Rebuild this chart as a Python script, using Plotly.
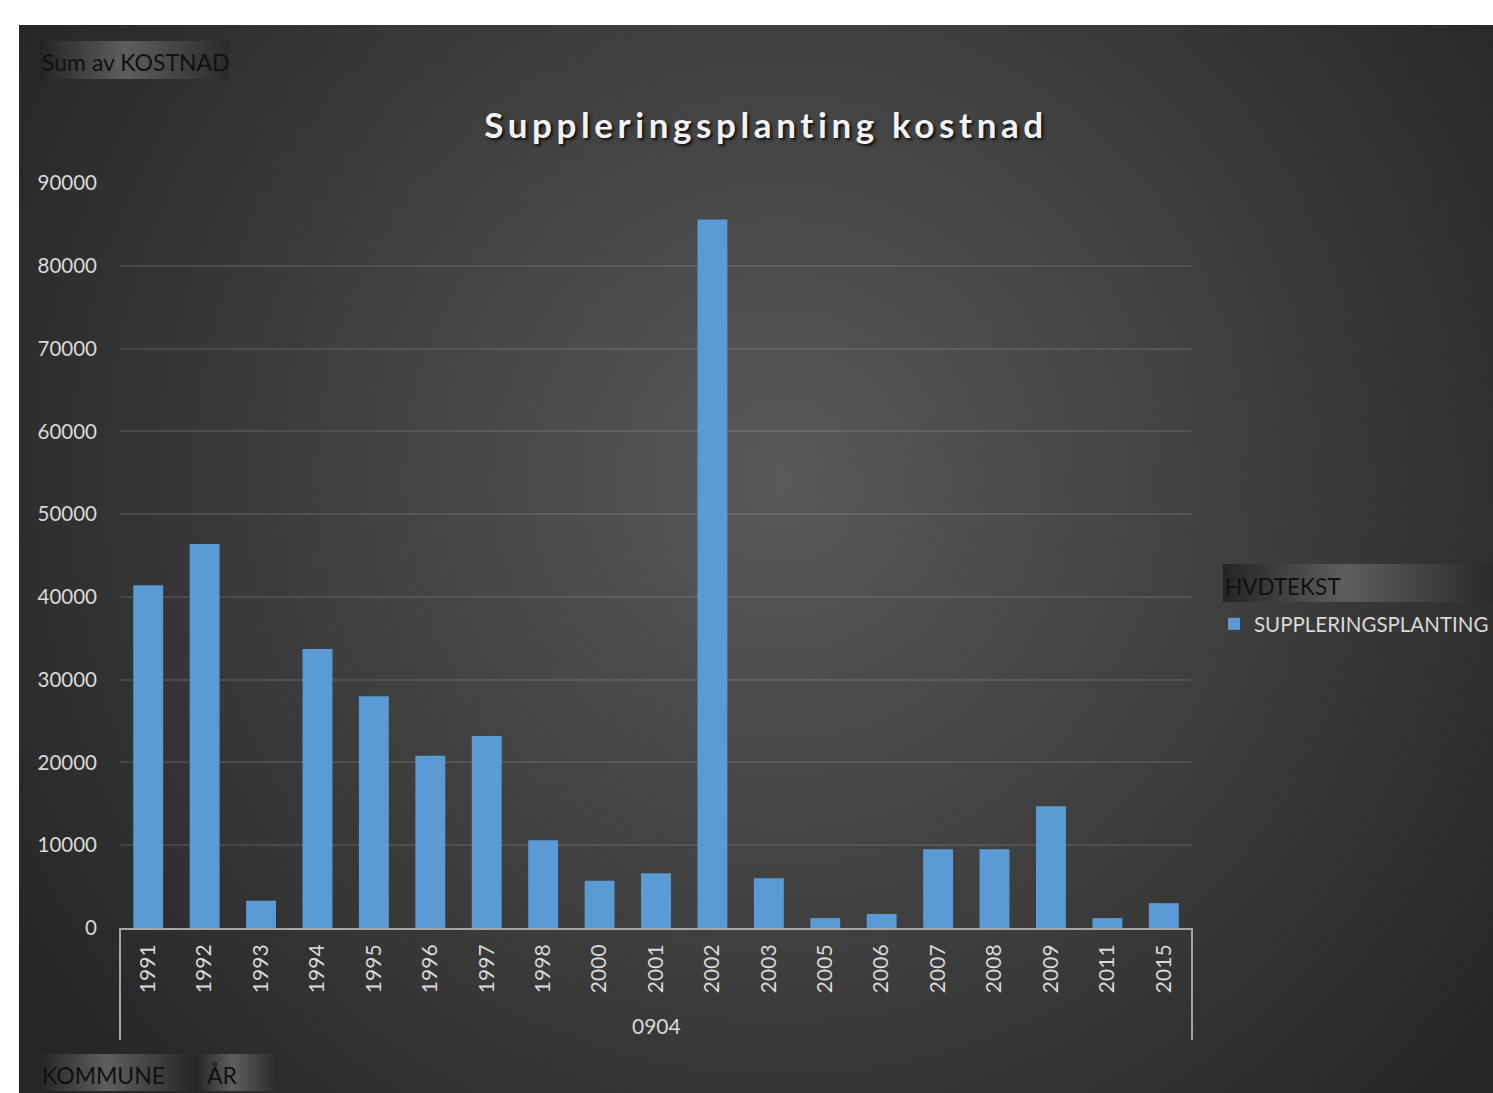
import base64
import plotly.graph_objects as go

# Pivot data: KOMMUNE 0904, HVDTEKST = SUPPLERINGSPLANTING, sum of KOSTNAD per year
kommune = "0904"
series_name = "SUPPLERINGSPLANTING"
years = ["1991", "1992", "1993", "1994", "1995", "1996", "1997", "1998", "2000", "2001",
         "2002", "2003", "2005", "2006", "2007", "2008", "2009", "2011", "2015"]
kostnad = [41400, 46400, 3300, 33700, 28000, 20800, 23200, 10600, 5700, 6600,
           85600, 6000, 1200, 1700, 9500, 9500, 14700, 1200, 3000]
y_ticks = [0, 10000, 20000, 30000, 40000, 50000, 60000, 70000, 80000, 90000]

W, H = 1493, 1093
ML, MR, MT, MB = 120, 301, 183, 165
PW, PH = W - ML - MR, H - MT - MB


def px(x):
    """pixel column -> paper x"""
    return (x - ML) / PW


def py(y):
    """pixel row -> paper y"""
    return (H - MB - y) / PH


FONT = "Lato, 'Open Sans', sans-serif"
LABEL = "#d9d9d9"
BTN_TEXT = "#111111"

# Page backdrop: dark radial gradient chart area plus the pivot field buttons
svg = f"""<svg xmlns="http://www.w3.org/2000/svg" width="{W}" height="{H}" viewBox="0 0 {W} {H}" preserveAspectRatio="none">
<defs>
<radialGradient id="bg" gradientUnits="userSpaceOnUse" cx="780" cy="480" r="900">
<stop offset="0" stop-color="#595959"/><stop offset="1" stop-color="#262626"/>
</radialGradient>
<linearGradient id="btn" x1="0" x2="1" y1="0" y2="0">
<stop offset="0" stop-color="#242424"/><stop offset="0.45" stop-color="#5e5e5e"/><stop offset="1" stop-color="#2a2a2a"/>
</linearGradient>
</defs>
<rect width="{W}" height="{H}" fill="#ffffff"/>
<rect x="19" y="25" width="1474" height="1068" fill="url(#bg)"/>
<rect x="40" y="41" width="189" height="38" fill="url(#btn)"/>
<rect x="38" y="1054" width="152" height="37" fill="url(#btn)"/>
<rect x="195" y="1054" width="83" height="37" fill="url(#btn)"/>
<rect x="1223" y="564" width="270" height="38" fill="url(#btn)"/>
</svg>"""
bg_uri = "data:image/svg+xml;base64," + base64.b64encode(svg.encode("utf-8")).decode("ascii")

fig = go.Figure()
fig.add_trace(go.Bar(
    x=years,
    y=kostnad,
    name=series_name,
    marker=dict(color="#5b9bd5", line=dict(width=0)),
))

fig.add_layout_image(dict(
    source=bg_uri, xref="paper", yref="paper",
    x=px(0), y=py(0), sizex=W / PW, sizey=H / PH,
    xanchor="left", yanchor="top", sizing="stretch", layer="below",
))

axis_line = "#a6a6a6"
fig.update_layout(
    width=W, height=H,
    margin=dict(l=ML, r=MR, t=MT, b=MB, pad=0, autoexpand=False),
    paper_bgcolor="#ffffff",
    plot_bgcolor="rgba(0,0,0,0)",
    bargap=0.47,
    font=dict(family=FONT, size=20, color=LABEL),
    title=dict(
        text='<span style="letter-spacing:4.6px">Suppleringsplanting kostnad</span>',
        x=766 / W, xref="container", xanchor="center",
        y=1 - 126 / H, yref="container", yanchor="middle",
        font=dict(family=FONT, size=35, color="#f2f2f2", weight="bold",
                  shadow="2px 2px 3px rgba(0,0,0,0.8)"),
    ),
    xaxis=dict(
        type="category", range=[-0.5, len(years) - 0.5],
        showline=True, linecolor=axis_line, linewidth=2,
        showgrid=False, ticks="", tickangle=-90,
        tickfont=dict(family=FONT, size=21, color=LABEL),
        ticklabelstandoff=6,
    ),
    yaxis=dict(
        range=[0, 90000], tickvals=y_ticks, tickformat="d",
        showgrid=True, gridcolor="rgba(255,255,255,0.10)", gridwidth=2,
        zeroline=False, showline=False, ticks="",
        tickfont=dict(family=FONT, size=20.5, color=LABEL),
        ticklabelstandoff=22,
    ),
    showlegend=True,
    legend=dict(
        x=1214 / W, xref="container", y=1 - 624 / H, yref="container",
        xanchor="left", yanchor="middle",
        bgcolor="rgba(0,0,0,0)", borderwidth=0,
        font=dict(family=FONT, size=20.5, color=LABEL),
    ),
)

# Category group frame under the axis
for xp in (0, 1):
    fig.add_shape(type="line", xref="paper", yref="paper",
                  x0=xp, x1=xp, y0=0, y1=py(1040),
                  line=dict(color=axis_line, width=2))

# Group label and pivot field buttons
notes = [
    (kommune, 656, 1025, "center", LABEL, 21),
    ("Sum av KOSTNAD", 41, 62, "left", BTN_TEXT, 23),
    ("KOMMUNE", 41, 1075, "left", BTN_TEXT, 23),
    ("ÅR", 206, 1075, "left", BTN_TEXT, 23),
    ("HVDTEKST", 1224, 586, "left", BTN_TEXT, 22.5),
]
for text, x, y, anchor, color, size in notes:
    fig.add_annotation(text=text, xref="paper", yref="paper",
                       x=px(x), y=py(y), xanchor=anchor, yanchor="middle",
                       showarrow=False, borderpad=0,
                       font=dict(family=FONT, size=size, color=color))

fig.write_html("out.html")
